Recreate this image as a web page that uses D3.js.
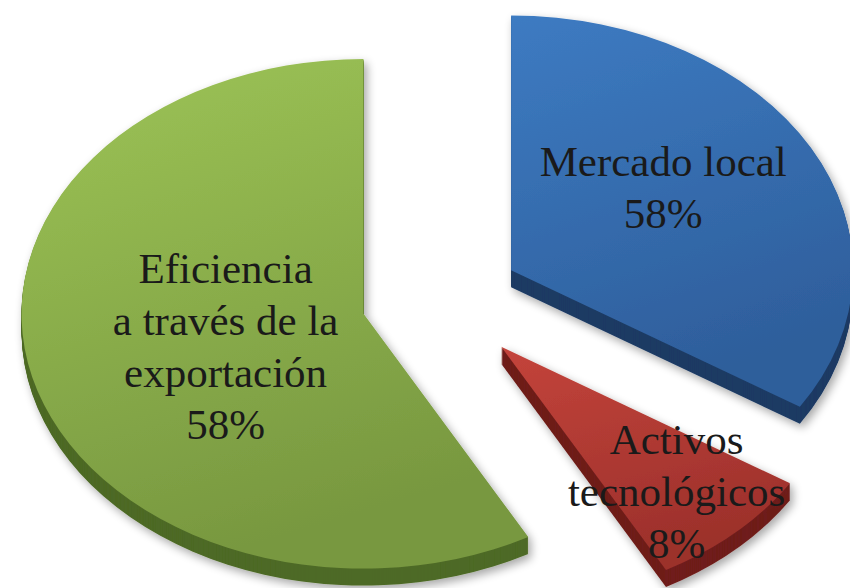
<!DOCTYPE html>
<html>
<head>
<meta charset="utf-8">
<script src="https://cdn.jsdelivr.net/npm/d3@7"></script>
<style>
  html, body { margin: 0; padding: 0; background: #fff; }
  svg { display: block; }
  .lbl { font-family: "Liberation Serif", "DejaVu Serif", serif; }
</style>
</head>
<body>
<svg id="chart"></svg>
<script>
// slices, clockwise from 12 o'clock
const categories = ["Mercado local", "Activos\ntecnológicos", "Eficiencia\na través de la\nexportación"];
const values = [34, 8, 58];              // share
const pctLabels = ["58%", "8%", "58%"];  // printed labels as in the picture

const topLight = ["#3d7bc2", "#c4443b", "#9dc456"];
const topDark = ["#2e5e9b", "#9c302b", "#789840"];
const sideColor = ["#1d3b64", "#6f1e1b", "#4e6a26"];

const width = 850, height = 588;
const cx = 441, cy = 299;
const R = 342, tilt = 0.745, depth = 17;
const explode = [80, 88, 80];

// label anchor (degrees clockwise from top, radius) relative to each slice apex
const labelAt = [[54, 188], [138, 262], [252, 145]];

const svg = d3.select("#chart").attr("width", width).attr("height", height);
const defs = svg.append("defs");

const shadow = defs.append("filter").attr("id", "shadow")
    .attr("x", "-20%").attr("y", "-20%").attr("width", "140%").attr("height", "140%");
shadow.append("feGaussianBlur").attr("in", "SourceAlpha").attr("stdDeviation", 5).attr("result", "b");
shadow.append("feOffset").attr("in", "b").attr("dx", 3).attr("dy", 4).attr("result", "o");
shadow.append("feComponentTransfer").attr("in", "o").attr("result", "s")
    .append("feFuncA").attr("type", "linear").attr("slope", 0.35);
const merge = shadow.append("feMerge");
merge.append("feMergeNode").attr("in", "s");
merge.append("feMergeNode").attr("in", "SourceGraphic");

values.forEach((v, i) => {
  const g = defs.append("linearGradient").attr("id", "grad" + i)
      .attr("x1", 0).attr("y1", 0).attr("x2", 0.3).attr("y2", 1);
  g.append("stop").attr("offset", 0).attr("stop-color", topLight[i]);
  g.append("stop").attr("offset", 1).attr("stop-color", topDark[i]);
});

const pie = d3.pie().sort(null).value(d => d.value).startAngle(0).endAngle(2 * Math.PI);
const arcs = pie(values.map((v, i) => ({ value: v, i: i })));
const arc = d3.arc().innerRadius(0).outerRadius(R);

function proj(deg, r) {
  const a = deg * Math.PI / 180;
  return [Math.sin(a) * r, -Math.cos(a) * r * tilt];
}

// back slices first
[0, 2, 1].forEach(i => {
  const d = arcs[i];
  const mid = (d.startAngle + d.endAngle) / 2 * 180 / Math.PI;
  const off = proj(mid, explode[i]);
  const ax = cx + off[0], ay = cy + off[1];

  const g = svg.append("g").attr("filter", "url(#shadow)");
  d3.range(depth, 0, -1).forEach(k => {
    g.append("path")
        .attr("d", arc(d))
        .attr("transform", `translate(${ax},${ay + k}) scale(1,${tilt})`)
        .attr("fill", sideColor[i]);
  });
  g.append("path")
      .attr("d", arc(d))
      .attr("transform", `translate(${ax},${ay}) scale(1,${tilt})`)
      .attr("fill", `url(#grad${i})`);

  // label
  const lines = categories[i].split("\n").concat(pctLabels[i]);
  const p = proj(labelAt[i][0], labelAt[i][1]);
  const lx = ax + p[0], ly = ay + p[1];
  const fs = 43, lh = 52;
  const t = svg.append("text")
      .attr("class", "lbl")
      .attr("x", lx)
      .attr("y", ly - (lines.length - 1) * lh / 2 + fs * 0.33)
      .attr("text-anchor", "middle")
      .style("font-size", fs + "px")
      .style("fill", "#1a1a1a");
  t.selectAll("tspan").data(lines).enter().append("tspan")
      .attr("x", lx)
      .attr("dy", (l, j) => j === 0 ? 0 : lh)
      .text(l => l);
});
</script>
</body>
</html>
